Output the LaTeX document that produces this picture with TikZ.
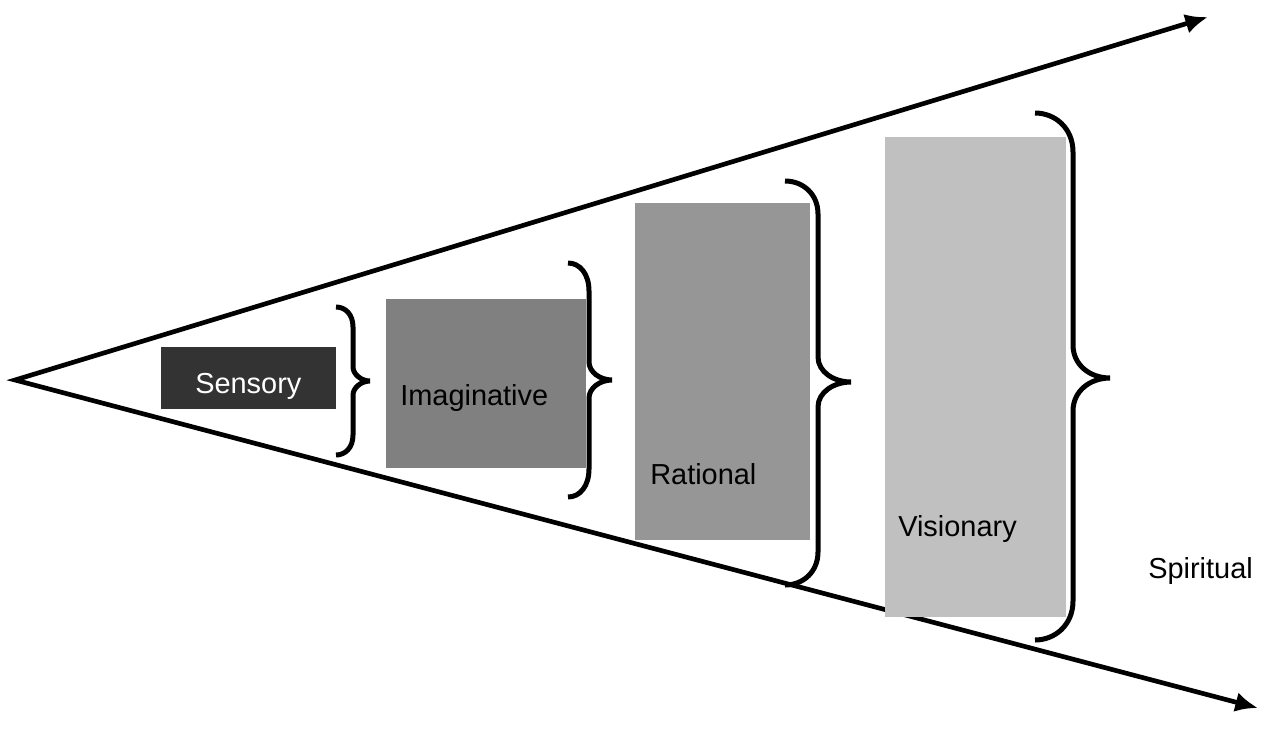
\documentclass[tikz,border=0pt]{standalone}
\usepackage{fontspec}
\setmainfont{Liberation Sans}
\usetikzlibrary{arrows.meta}
\begin{document}
\begin{tikzpicture}[x=0.75pt,y=-0.75pt,
  axis/.style={line width=3.5pt, line join=miter, {Latex[length=17pt,width=15pt]}-{Latex[length=17pt,width=15pt]}},
  box/.style={draw=none, inner sep=0pt, outer sep=0pt},
  lbl/.style={inner sep=0pt, anchor=base west, font=\fontsize{21.7}{26}\selectfont},
  brc/.style={line width=3.75pt}]
\useasboundingbox (0,0) rectangle (1274,740);
\coordinate (apex) at (15,380);
\coordinate (up) at (1208,17);
\coordinate (down) at (1258,708);
\draw[axis] (up) -- (apex) -- (down);
% boxes
\node[box, fill={rgb,255:red,51;green,51;blue,51}, minimum width=131.25pt, minimum height=46.5pt] (sensory) at (248.5,378) {};
\node[box, fill={rgb,255:red,128;green,128;blue,128}, minimum width=150pt, minimum height=126.75pt] (imag) at (486,383.5) {};
\node[box, fill={rgb,255:red,150;green,150;blue,150}, minimum width=131.25pt, minimum height=252.75pt] (rat) at (722.5,371.5) {};
\node[box, fill={rgb,255:red,192;green,192;blue,192}, minimum width=135.75pt, minimum height=360pt] (vis) at (975.5,377) {};
% labels
\node[lbl, text=white] (tsens) at (195,393) {Sensory};
\node[lbl] (timag) at (400,405) {Imaginative};
\node[lbl] (trat) at (650,484) {Rational};
\node[lbl] (tvis) at (898,536) {Visionary};
\node[lbl] (tspir) at (1148,578) {Spiritual};
% braces
\draw[brc] (336,307) .. controls (345,307) and (353,314) .. (353,327) -- (353,367) .. controls (353,374) and (361,381) .. (370,381)
  .. controls (361,381) and (353,388) .. (353,395) -- (353,435) .. controls (353,448) and (345,455) .. (336,455);
\draw[brc] (568,263) .. controls (580,263) and (589,274) .. (589,291) -- (589,362) .. controls (589,372) and (600,380) .. (612,380)
  .. controls (600,380) and (589,388) .. (589,398) -- (589,469) .. controls (589,486) and (580,497) .. (568,497);
\draw[brc] (785,181) .. controls (803,181) and (818,194) .. (818,214) -- (818,357) .. controls (818,372) and (834,382) .. (851,382)
  .. controls (834,382) and (818,392) .. (818,407) -- (818,552) .. controls (818,572) and (803,585) .. (785,585);
\draw[brc] (1035,113) .. controls (1055,113) and (1073,128) .. (1073,152) -- (1073,345) .. controls (1073,365) and (1090,378) .. (1110,378)
  .. controls (1090,378) and (1073,391) .. (1073,411) -- (1073,601) .. controls (1073,625) and (1055,640) .. (1035,640);
\end{tikzpicture}
\end{document}
